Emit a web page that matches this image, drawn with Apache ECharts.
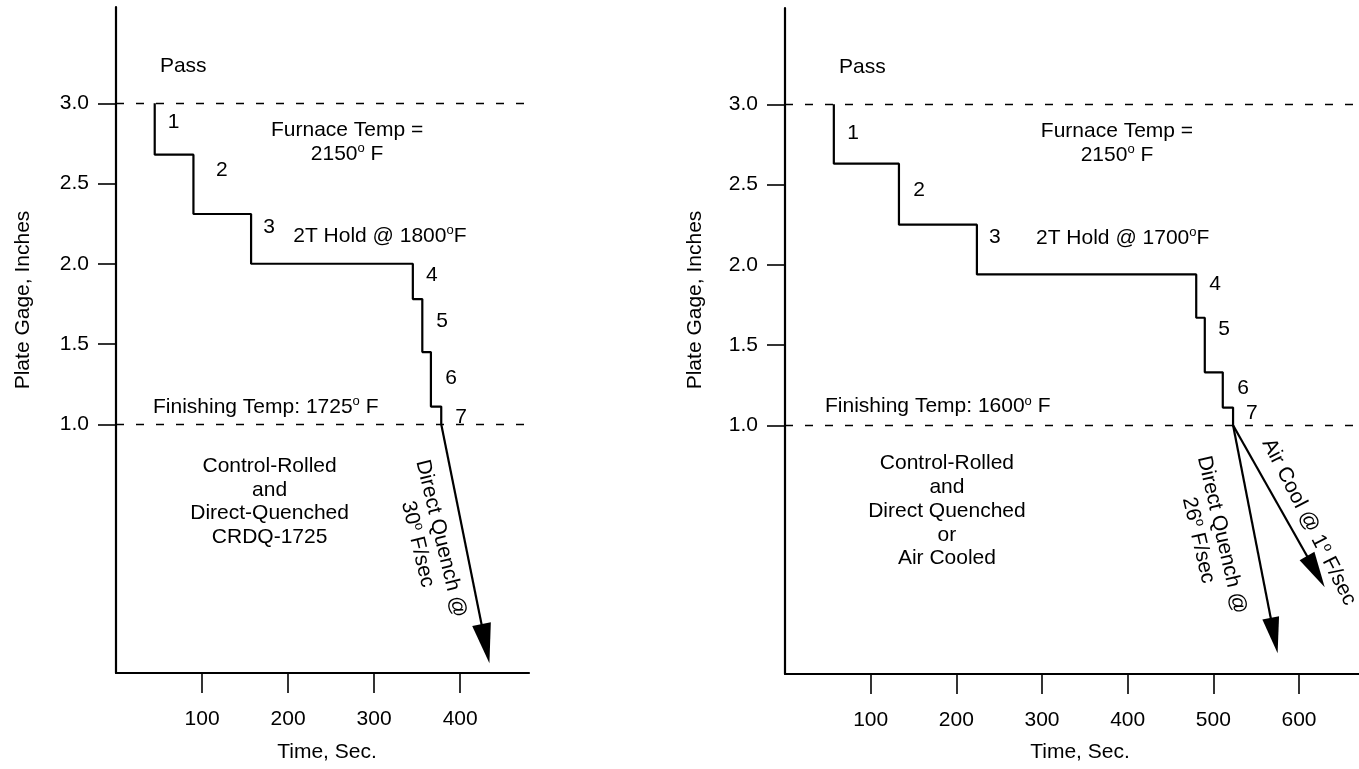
<!DOCTYPE html>
<html><head><meta charset="utf-8">
<script src="https://cdn.jsdelivr.net/npm/echarts@6/dist/echarts.min.js"></script>
<style>html,body{margin:0;padding:0;background:#fff}#c{width:1359px;height:769px}</style>
</head><body><div id="c"></div>
<script>
// ---- data: left panel (CRDQ-1725) ----
const leftPassTimes = [45, 90, 157, 345, 356, 366, 378];          // sec, time of each pass
const leftGauges = [3.0, 2.68, 2.31, 2.0, 1.78, 1.45, 1.11, 1.0];  // inches: start, then after each pass
const leftQuench = [378, 1.0, 434, -0.49];                         // direct quench arrow (from x,y to x,y)
// ---- data: right panel ----
const rightPassTimes = [57, 133, 224, 480, 490, 511, 523];
const rightGauges = [3.0, 2.63, 2.25, 1.94, 1.67, 1.33, 1.11, 1.0];
const rightQuench = [523, 1.0, 575, -0.42];
const rightAirCool = [523, 1.0, 630, -0.01];
// ---- ticks / reference lines ----
const yTicks = [1.0, 1.5, 2.0, 2.5, 3.0];
const leftXTicks = [100, 200, 300, 400];
const rightXTicks = [100, 200, 300, 400, 500, 600];
const refLines = [3.0, 1.0];
// ---- annotations: text, x, y, align, rotation(deg clockwise) ----
const leftNotes = [
  ['Pass', 51, 3.23, 'left'],
  ['1', 67, 2.88], ['2', 123, 2.58], ['3', 178, 2.23], ['4', 367, 1.93],
  ['5', 379, 1.64], ['6', 389.5, 1.29], ['7', 401, 1.045],
  ['Furnace Temp =\n2150{s|o} F', 268.6, 2.76],
  ['2T Hold @ 1800{s|o}F', 206, 2.173, 'left'],
  ['Finishing Temp: 1725{s|o} F', 43, 1.107, 'left'],
  ['Control-Rolled\nand\nDirect-Quenched\nCRDQ-1725', 178.5, 0.518],
  ['Direct Quench @\n30{s|o} F/sec', 364, 0.27, 'center', 76.5]
];
const rightNotes = [
  ['Pass', 63, 3.23, 'left'],
  ['1', 79.4, 2.82], ['2', 156.4, 2.466], ['3', 245, 2.173], ['4', 502, 1.88],
  ['5', 512.4, 1.60], ['6', 534.6, 1.232], ['7', 545, 1.076],
  ['Furnace Temp =\n2150{s|o} F', 387.5, 2.76],
  ['2T Hold @ 1700{s|o}F', 293, 2.167, 'left'],
  ['Finishing Temp: 1600{s|o} F', 46.7, 1.116, 'left'],
  ['Control-Rolled\nand\nDirect Quenched\nor\nAir Cooled', 189, 0.466],
  ['Direct Quench @\n26{s|o} F/sec', 496, 0.30, 'center', 77],
  ['Air Cool @ 1{s|o} F/sec', 611.6, 0.397, 'center', 63]
];

const FONT = '"Liberation Sans", Arial, sans-serif';
const FS = 21;

function steps(times, gauges) {
  const pts = [[times[0], gauges[0]]];
  for (let i = 0; i < times.length; i++) {
    pts.push([times[i], gauges[i + 1]]);
    if (i + 1 < times.length) pts.push([times[i + 1], gauges[i + 1]]);
  }
  return pts;
}

function arrowItem(params, api) {
  const a = api.coord([api.value(0), api.value(1)]);
  const b = api.coord([api.value(2), api.value(3)]);
  const dx = b[0] - a[0], dy = b[1] - a[1];
  const L = Math.hypot(dx, dy), ux = dx / L, uy = dy / L;
  const hl = params.seriesIndex === 2 ? 40 : 36, hw = params.seriesIndex === 2 ? 9.5 : 8.5;
  const bx = b[0] - ux * hl, by = b[1] - uy * hl;
  const px = -uy, py = ux;
  return {
    type: 'group', children: [
      { type: 'line', shape: { x1: a[0], y1: a[1], x2: bx + ux * 4, y2: by + uy * 4 }, style: { stroke: '#000', lineWidth: 2.2 } },
      { type: 'polygon', shape: { points: [[b[0], b[1]], [bx + px * hw, by + py * hw], [bx - px * hw, by - py * hw]] }, style: { fill: '#000' } }
    ]
  };
}

function noteRenderer(notes, fs) {
  return function (params, api) {
    const n = notes[params.dataIndex];
    const p = api.coord([api.value(0), api.value(1)]);
    return {
      type: 'text', x: p[0], y: p[1],
      rotation: n[4] ? -n[4] * Math.PI / 180 : 0,
      style: {
        text: n[0], fill: '#000', fontSize: fs, fontFamily: FONT,
        align: n[3] || 'center', verticalAlign: 'middle', lineHeight: 23.8,
        rich: { s: { fontSize: Math.round(fs * 0.62), fontFamily: FONT, fill: '#000', verticalAlign: 'top', lineHeight: 23.8 } }
      }
    };
  };
}

function yAxisCfg(gi) {
  return {
    gridIndex: gi, type: 'value', min: -0.55, max: 3.6,
    axisLine: { show: true, onZero: false, lineStyle: { color: '#000', width: 2.2 } },
    axisTick: { show: true, length: 18, customValues: yTicks, lineStyle: { color: '#000', width: 1.6 } },
    axisLabel: { customValues: yTicks, formatter: v => v.toFixed(1), margin: 27, fontSize: FS, fontFamily: FONT, color: '#000' },
    splitLine: { show: false }
  };
}
function xAxisCfg(gi, max, ticks) {
  return {
    gridIndex: gi, type: 'value', min: 0, max: max,
    axisLine: { show: true, onZero: false, lineStyle: { color: '#000', width: 2.2 } },
    axisTick: { show: true, length: 20, customValues: ticks, lineStyle: { color: '#000', width: 1.6 } },
    axisLabel: { customValues: ticks, margin: 36, fontSize: FS, fontFamily: FONT, color: '#000' },
    splitLine: { show: false }
  };
}

const refMark = {
  symbol: 'none', silent: true, label: { show: false },
  lineStyle: { type: [8, 12], color: '#000', width: 1.3 },
  data: refLines.map(v => ({ yAxis: v }))
};

const titleStyle = { fontSize: FS, fontFamily: FONT, fill: '#000', align: 'center', verticalAlign: 'middle' };
const chart = echarts.init(document.getElementById('c'), null, { renderer: 'canvas' });
chart.setOption({
  animation: false,
  backgroundColor: '#fff',
  grid: [
    { left: 116, top: 7, width: 413, height: 666 },
    { left: 785, top: 8, width: 574, height: 666 }
  ],
  xAxis: [xAxisCfg(0, 480, leftXTicks), xAxisCfg(1, 670, rightXTicks)],
  yAxis: [yAxisCfg(0), yAxisCfg(1)],
  graphic: [
    { type: 'text', x: 23, y: 300, rotation: Math.PI / 2, style: Object.assign({ text: 'Plate Gage, Inches' }, titleStyle) },
    { type: 'text', x: 695, y: 300, rotation: Math.PI / 2, style: Object.assign({ text: 'Plate Gage, Inches' }, titleStyle) },
    { type: 'text', x: 327, y: 752, style: Object.assign({ text: 'Time, Sec.' }, titleStyle) },
    { type: 'text', x: 1080, y: 752, style: Object.assign({ text: 'Time, Sec.' }, titleStyle) }
  ],
  series: [
    { type: 'line', xAxisIndex: 0, yAxisIndex: 0, data: steps(leftPassTimes, leftGauges), symbol: 'none', lineStyle: { color: '#000', width: 2.2 }, markLine: refMark, z: 3 },
    { type: 'line', xAxisIndex: 1, yAxisIndex: 1, data: steps(rightPassTimes, rightGauges), symbol: 'none', lineStyle: { color: '#000', width: 2.2 }, markLine: refMark, z: 3 },
    { type: 'custom', xAxisIndex: 0, yAxisIndex: 0, data: [leftQuench], renderItem: arrowItem, encode: { x: [0, 2], y: [1, 3] }, z: 4 },
    { type: 'custom', xAxisIndex: 1, yAxisIndex: 1, data: [rightQuench, rightAirCool], renderItem: arrowItem, encode: { x: [0, 2], y: [1, 3] }, z: 4 },
    { type: 'custom', xAxisIndex: 0, yAxisIndex: 0, data: leftNotes.map(n => [n[1], n[2]]), renderItem: noteRenderer(leftNotes, FS), silent: true, z: 5 },
    { type: 'custom', xAxisIndex: 1, yAxisIndex: 1, data: rightNotes.map(n => [n[1], n[2]]), renderItem: noteRenderer(rightNotes, FS), silent: true, z: 5 }
  ]
});
</script></body></html>
